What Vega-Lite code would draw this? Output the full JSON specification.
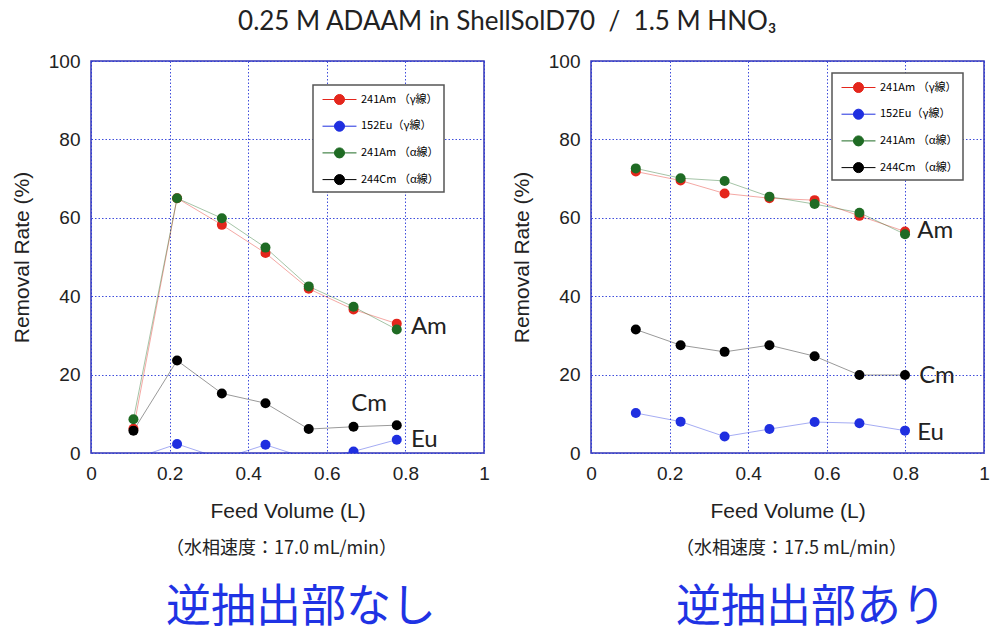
{
  "$schema": "https://vega.github.io/schema/vega-lite/v6.json",
  "background": "white",
  "padding": {"left": 10, "top": 9, "right": 4, "bottom": 0},
  "title": {
    "text": "0.25 M ADAAM in ShellSolD70\u00a0\u00a0/\u00a0\u00a01.5 M HNO₃",
    "font": "Lato",
    "fontSize": 26,
    "fontWeight": "normal",
    "color": "#222222",
    "anchor": "middle",
    "dx": 7,
    "offset": 16
  },
  "datasets": {
    "points": [
      {"panel": "L", "series": "241Am （γ線）", "volume": 0.108, "rate": 6.2},
      {"panel": "L", "series": "241Am （γ線）", "volume": 0.219, "rate": 65.0},
      {"panel": "L", "series": "241Am （γ線）", "volume": 0.333, "rate": 58.2},
      {"panel": "L", "series": "241Am （γ線）", "volume": 0.444, "rate": 51.0},
      {"panel": "L", "series": "241Am （γ線）", "volume": 0.554, "rate": 41.9},
      {"panel": "L", "series": "241Am （γ線）", "volume": 0.668, "rate": 36.6},
      {"panel": "L", "series": "241Am （γ線）", "volume": 0.778, "rate": 33.0},
      {"panel": "L", "series": "152Eu（γ線）", "volume": 0.108, "rate": -1.5},
      {"panel": "L", "series": "152Eu（γ線）", "volume": 0.219, "rate": 2.3},
      {"panel": "L", "series": "152Eu（γ線）", "volume": 0.333, "rate": -1.5},
      {"panel": "L", "series": "152Eu（γ線）", "volume": 0.444, "rate": 2.1},
      {"panel": "L", "series": "152Eu（γ線）", "volume": 0.554, "rate": -1.5},
      {"panel": "L", "series": "152Eu（γ線）", "volume": 0.668, "rate": 0.4},
      {"panel": "L", "series": "152Eu（γ線）", "volume": 0.778, "rate": 3.4},
      {"panel": "L", "series": "241Am （α線）", "volume": 0.108, "rate": 8.6},
      {"panel": "L", "series": "241Am （α線）", "volume": 0.219, "rate": 65.0},
      {"panel": "L", "series": "241Am （α線）", "volume": 0.333, "rate": 59.9},
      {"panel": "L", "series": "241Am （α線）", "volume": 0.444, "rate": 52.4},
      {"panel": "L", "series": "241Am （α線）", "volume": 0.554, "rate": 42.5},
      {"panel": "L", "series": "241Am （α線）", "volume": 0.668, "rate": 37.3},
      {"panel": "L", "series": "241Am （α線）", "volume": 0.778, "rate": 31.5},
      {"panel": "L", "series": "244Cm （α線）", "volume": 0.108, "rate": 5.7},
      {"panel": "L", "series": "244Cm （α線）", "volume": 0.219, "rate": 23.6},
      {"panel": "L", "series": "244Cm （α線）", "volume": 0.333, "rate": 15.2},
      {"panel": "L", "series": "244Cm （α線）", "volume": 0.444, "rate": 12.7},
      {"panel": "L", "series": "244Cm （α線）", "volume": 0.554, "rate": 6.1},
      {"panel": "L", "series": "244Cm （α線）", "volume": 0.668, "rate": 6.7},
      {"panel": "L", "series": "244Cm （α線）", "volume": 0.778, "rate": 7.1},
      {"panel": "R", "series": "241Am （γ線）", "volume": 0.114, "rate": 71.8},
      {"panel": "R", "series": "241Am （γ線）", "volume": 0.228, "rate": 69.5},
      {"panel": "R", "series": "241Am （γ線）", "volume": 0.340, "rate": 66.2},
      {"panel": "R", "series": "241Am （γ線）", "volume": 0.454, "rate": 65.0},
      {"panel": "R", "series": "241Am （γ線）", "volume": 0.569, "rate": 64.5},
      {"panel": "R", "series": "241Am （γ線）", "volume": 0.683, "rate": 60.5},
      {"panel": "R", "series": "241Am （γ線）", "volume": 0.799, "rate": 56.5},
      {"panel": "R", "series": "152Eu（γ線）", "volume": 0.114, "rate": 10.2},
      {"panel": "R", "series": "152Eu（γ線）", "volume": 0.228, "rate": 8.0},
      {"panel": "R", "series": "152Eu（γ線）", "volume": 0.340, "rate": 4.2},
      {"panel": "R", "series": "152Eu（γ線）", "volume": 0.454, "rate": 6.1},
      {"panel": "R", "series": "152Eu（γ線）", "volume": 0.569, "rate": 7.9},
      {"panel": "R", "series": "152Eu（γ線）", "volume": 0.683, "rate": 7.6},
      {"panel": "R", "series": "152Eu（γ線）", "volume": 0.799, "rate": 5.7},
      {"panel": "R", "series": "241Am （α線）", "volume": 0.114, "rate": 72.6},
      {"panel": "R", "series": "241Am （α線）", "volume": 0.228, "rate": 70.1},
      {"panel": "R", "series": "241Am （α線）", "volume": 0.340, "rate": 69.4},
      {"panel": "R", "series": "241Am （α線）", "volume": 0.454, "rate": 65.4},
      {"panel": "R", "series": "241Am （α線）", "volume": 0.569, "rate": 63.5},
      {"panel": "R", "series": "241Am （α線）", "volume": 0.683, "rate": 61.3},
      {"panel": "R", "series": "241Am （α線）", "volume": 0.799, "rate": 55.8},
      {"panel": "R", "series": "244Cm （α線）", "volume": 0.114, "rate": 31.5},
      {"panel": "R", "series": "244Cm （α線）", "volume": 0.228, "rate": 27.5},
      {"panel": "R", "series": "244Cm （α線）", "volume": 0.340, "rate": 25.8},
      {"panel": "R", "series": "244Cm （α線）", "volume": 0.454, "rate": 27.5},
      {"panel": "R", "series": "244Cm （α線）", "volume": 0.569, "rate": 24.7},
      {"panel": "R", "series": "244Cm （α線）", "volume": 0.683, "rate": 19.9},
      {"panel": "R", "series": "244Cm （α線）", "volume": 0.799, "rate": 19.9}
    ],
    "tags": [
      {"panel": "L", "tag": "Am", "volume": 0.814, "rate": 32.1},
      {"panel": "L", "tag": "Cm", "volume": 0.662, "rate": 12.5},
      {"panel": "L", "tag": "Eu", "volume": 0.814, "rate": 3.3},
      {"panel": "R", "tag": "Am", "volume": 0.83, "rate": 56.6},
      {"panel": "R", "tag": "Cm", "volume": 0.835, "rate": 19.6},
      {"panel": "R", "tag": "Eu", "volume": 0.83, "rate": 5.1}
    ]
  },
  "spacing": 19,
  "hconcat": [
    {
      "width": 393,
      "height": 392,
      "title": {
        "text": "（水相速度：17.0 mL/min）",
        "subtitle": "逆抽出部なし",
        "orient": "bottom",
        "anchor": "start",
        "frame": "group",
        "dx": 75,
        "font": "Noto Sans CJK JP",
        "fontSize": 18,
        "fontWeight": "normal",
        "color": "#222222",
        "subtitleFont": "Noto Sans CJK JP",
        "subtitleFontSize": 45,
        "subtitleColor": "#1f33e4",
        "subtitlePadding": 28,
        "offset": 19
      },
      "encoding": {
        "x": {
          "field": "volume",
          "type": "quantitative",
          "scale": {"domain": [0, 1], "nice": false, "zero": false},
          "axis": {"title": "Feed Volume (L)", "values": [0, 0.2, 0.4, 0.6, 0.8, 1], "format": "~g"}
        },
        "y": {
          "field": "rate",
          "type": "quantitative",
          "scale": {"domain": [0, 100], "nice": false},
          "axis": {"title": "Removal Rate (%)", "values": [0, 20, 40, 60, 80, 100]}
        }
      },
      "layer": [
        {
          "data": {"name": "points"},
          "transform": [{"filter": "datum.panel == 'L'"}],
          "mark": {"type": "line", "strokeWidth": 1, "opacity": 0.4, "clip": true},
          "encoding": {
            "color": {
              "field": "series",
              "type": "nominal",
              "scale": {"domain": ["241Am （γ線）", "152Eu（γ線）", "241Am （α線）", "244Cm （α線）"], "range": ["#e4261c", "#1f2fe0", "#1f6b24", "#000000"]},
              "legend": {"orient": "none", "legendX": 222, "legendY": 24}
            }
          }
        },
        {
          "data": {"name": "points"},
          "transform": [{"filter": "datum.panel == 'L'"}],
          "mark": {"type": "circle", "size": 100, "opacity": 1, "clip": true},
          "encoding": {
            "color": {
              "field": "series",
              "type": "nominal",
              "scale": {"domain": ["241Am （γ線）", "152Eu（γ線）", "241Am （α線）", "244Cm （α線）"], "range": ["#e4261c", "#1f2fe0", "#1f6b24", "#000000"]},
              "legend": {"orient": "none", "legendX": 222, "legendY": 24}
            }
          }
        },
        {
          "data": {"name": "tags"},
          "transform": [{"filter": "datum.panel == 'L'"}],
          "mark": {"type": "text", "align": "left", "baseline": "middle", "font": "Lato", "fontSize": 24, "color": "#222222"},
          "encoding": {"text": {"field": "tag"}}
        }
      ]
    },
    {
      "width": 393,
      "height": 392,
      "title": {
        "text": "（水相速度：17.5 mL/min）",
        "subtitle": "逆抽出部あり",
        "orient": "bottom",
        "anchor": "start",
        "frame": "group",
        "dx": 85,
        "font": "Noto Sans CJK JP",
        "fontSize": 18,
        "fontWeight": "normal",
        "color": "#222222",
        "subtitleFont": "Noto Sans CJK JP",
        "subtitleFontSize": 45,
        "subtitleColor": "#1f33e4",
        "subtitlePadding": 28,
        "offset": 19
      },
      "encoding": {
        "x": {
          "field": "volume",
          "type": "quantitative",
          "scale": {"domain": [0, 1], "nice": false, "zero": false},
          "axis": {"title": "Feed Volume (L)", "values": [0, 0.2, 0.4, 0.6, 0.8, 1], "format": "~g"}
        },
        "y": {
          "field": "rate",
          "type": "quantitative",
          "scale": {"domain": [0, 100], "nice": false},
          "axis": {"title": "Removal Rate (%)", "values": [0, 20, 40, 60, 80, 100]}
        }
      },
      "layer": [
        {
          "data": {"name": "points"},
          "transform": [{"filter": "datum.panel == 'R'"}],
          "mark": {"type": "line", "strokeWidth": 1, "opacity": 0.4, "clip": true},
          "encoding": {
            "color": {
              "field": "series",
              "type": "nominal",
              "scale": {"domain": ["241Am （γ線）", "152Eu（γ線）", "241Am （α線）", "244Cm （α線）"], "range": ["#e4261c", "#1f2fe0", "#1f6b24", "#000000"]},
              "legend": {"orient": "none", "legendX": 241, "legendY": 12}
            }
          }
        },
        {
          "data": {"name": "points"},
          "transform": [{"filter": "datum.panel == 'R'"}],
          "mark": {"type": "circle", "size": 100, "opacity": 1, "clip": true},
          "encoding": {
            "color": {
              "field": "series",
              "type": "nominal",
              "scale": {"domain": ["241Am （γ線）", "152Eu（γ線）", "241Am （α線）", "244Cm （α線）"], "range": ["#e4261c", "#1f2fe0", "#1f6b24", "#000000"]},
              "legend": {"orient": "none", "legendX": 241, "legendY": 12}
            }
          }
        },
        {
          "data": {"name": "tags"},
          "transform": [{"filter": "datum.panel == 'R'"}],
          "mark": {"type": "text", "align": "left", "baseline": "middle", "font": "Lato", "fontSize": 24, "color": "#222222"},
          "encoding": {"text": {"field": "tag"}}
        }
      ]
    }
  ],
  "resolve": {"legend": {"color": "independent"}},
  "config": {
    "font": "Liberation Sans",
    "view": {"stroke": "#3636b4", "strokeWidth": 1.5},
    "axisX": {"labelPadding": 11, "titlePadding": 17},
    "axisY": {"labelPadding": 11, "titlePadding": 16},
    "axis": {
      "domain": false,
      "ticks": false,
      "grid": true,
      "gridColor": "#2a3ad8",
      "gridDash": [1.5, 2],
      "gridWidth": 1,
      "gridOpacity": 0.9,
      "labelFont": "Liberation Sans",
      "labelFontSize": 19,
      "labelColor": "#222222",
      "titleFont": "Liberation Sans",
      "titleFontSize": 21,
      "titleFontWeight": "normal",
      "titleColor": "#222222",
      "labelFlush": false
    },
    "legend": {
      "title": null,
      "symbolType": "M -1.96 0 L 1.96 0 M 0.58 0 A 0.58 0.58 0 1 1 -0.58 0 A 0.58 0.58 0 1 1 0.58 0",
      "symbolSize": 300,
      "symbolStrokeWidth": 1,
      "symbolOpacity": 1,
      "symbolOffset": 12,
      "labelOffset": 12,
      "labelFont": "Noto Sans CJK JP",
      "labelFontSize": 11,
      "rowPadding": 9.7,
      "padding": 5,
      "strokeColor": "#555555",
      "strokeWidth": 1.5,
      "fillColor": "white",
      "cornerRadius": 0,
      "encode": {
        "labels": {
          "update": {
            "fill": {"signal": "indexof(datum.value, 'Eu') >= 0 ? '#1f2fe0' : indexof(datum.value, 'Cm') >= 0 ? '#222222' : indexof(datum.value, 'α') >= 0 ? '#1f6b24' : '#e4261c'"}
          }
        },
        "symbols": {
          "update": {
            "stroke": {"signal": "indexof(datum.value, 'Eu') >= 0 ? '#1f2fe0' : indexof(datum.value, 'Cm') >= 0 ? '#000000' : indexof(datum.value, 'α') >= 0 ? '#1f6b24' : '#e4261c'"},
            "strokeOpacity": {"value": 0.5}
          }
        }
      }
    }
  }
}
